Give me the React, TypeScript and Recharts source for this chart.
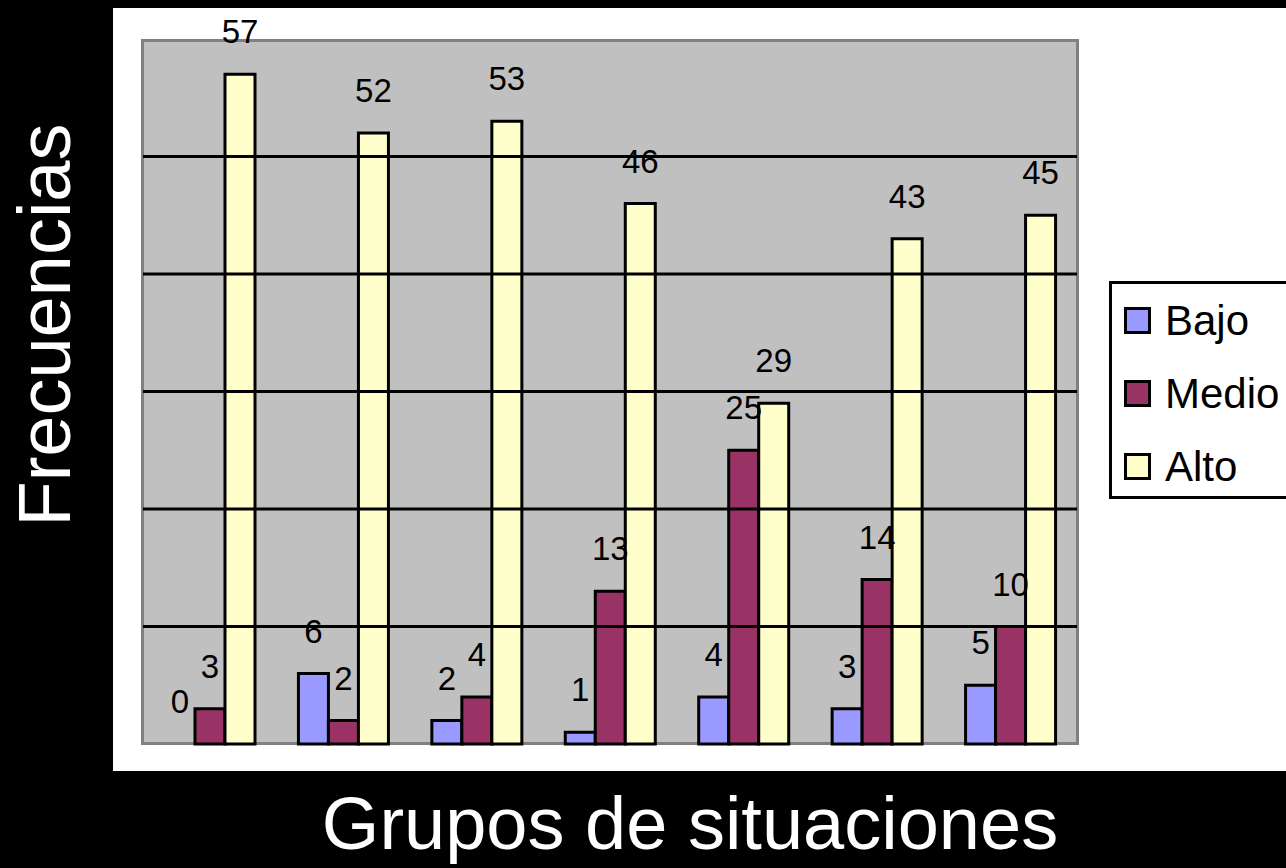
import {
  BarChart,
  Bar,
  XAxis,
  YAxis,
  ReferenceLine,
  LabelList,
  Rectangle,
} from "recharts";

const categories = ["G1", "G2", "G3", "G4", "G5", "G6", "G7"];
const bajo = [0, 6, 2, 1, 4, 3, 5];
const medio = [3, 2, 4, 13, 25, 14, 10];
const alto = [57, 52, 53, 46, 29, 43, 45];
const gridTicks = [10, 20, 30, 40, 50];

const series = [
  { key: "bajo", name: "Bajo", color: "#9999FF" },
  { key: "medio", name: "Medio", color: "#993366" },
  { key: "alto", name: "Alto", color: "#FFFFCC" },
];

const data = categories.map((c, i) => ({
  name: c,
  bajo: bajo[i],
  medio: medio[i],
  alto: alto[i],
}));

const FONT = "'Liberation Sans', Arial, sans-serif";

// value above the bar (bars of value 0 get a hairline height so the label stays)
const renderValue = (props: any) => {
  const { x, y, width, height, value } = props;
  if (value === undefined || value === null) return null;
  const top = Number(y) + (Number(height) < 1.5 ? Number(height) : 0);
  return (
    <text
      x={Number(x) + Number(width) / 2}
      y={top - 31}
      textAnchor="middle"
      fill="#000"
      fontSize={33}
      fontFamily={FONT}
    >
      {value}
    </text>
  );
};

export default function App() {
  return (
    <div
      style={{
        position: "fixed",
        left: 0,
        top: 0,
        width: 1286,
        height: 868,
        background: "#000",
        overflow: "hidden",
        fontFamily: FONT,
      }}
    >
      {/* white chart panel */}
      <div
        style={{
          position: "absolute",
          left: 113,
          top: 8,
          width: 1200,
          height: 763,
          background: "#fff",
        }}
      />
      {/* plot area background + border */}
      <div
        style={{
          position: "absolute",
          left: 141,
          top: 39,
          width: 938,
          height: 706,
          boxSizing: "border-box",
          background: "#C0C0C0",
          border: "3px solid #808080",
        }}
      />
      <div style={{ position: "absolute", left: 0, top: 0 }}>
        <BarChart
          width={1286}
          height={868}
          data={data}
          margin={{ top: 39, right: 209, bottom: 124, left: 143 }}
          barGap={0}
          barSize={30}
        >
          <XAxis dataKey="name" hide />
          <YAxis domain={[0, 60]} hide />
          {gridTicks.map((t) => (
            <ReferenceLine key={t} y={t} stroke="#000" strokeWidth={3} />
          ))}
          {series.map((s) => (
            <Bar
              key={s.key}
              dataKey={s.key}
              name={s.name}
              fill={s.color}
              stroke="#000"
              strokeWidth={3}
              minPointSize={(v: any) => (Number(v) === 0 ? 1 : 0)}
              shape={(p: any) =>
                p.payload && p.payload[s.key] === 0 ? <g /> : <Rectangle {...p} />
              }
              isAnimationActive={false}
            >
              <LabelList dataKey={s.key} content={renderValue} />
            </Bar>
          ))}
        </BarChart>
      </div>
      {/* legend */}
      <div
        style={{
          position: "absolute",
          left: 1109,
          top: 281,
          width: 200,
          height: 218,
          boxSizing: "border-box",
          border: "3px solid #000",
          background: "#fff",
        }}
      >
        {series.map((s) => (
          <div
            key={s.key}
            style={{ height: 73, display: "flex", alignItems: "center" }}
          >
            <div
              style={{
                marginLeft: 12,
                width: 27,
                height: 27,
                boxSizing: "border-box",
                border: "3px solid #000",
                background: s.color,
              }}
            />
            <span
              style={{ marginLeft: 14, fontSize: 42, color: "#000", lineHeight: 1 }}
            >
              {s.name}
            </span>
          </div>
        ))}
      </div>
      {/* axis titles */}
      <svg
        width={1286}
        height={868}
        style={{ position: "absolute", left: 0, top: 0, pointerEvents: "none" }}
      >
        <text
          x={70}
          y={325}
          transform="rotate(-90, 70, 325)"
          textAnchor="middle"
          fill="#fff"
          fontSize={74}
          fontFamily={FONT}
        >
          Frecuencias
        </text>
        <text
          x={690}
          y={849}
          textAnchor="middle"
          fill="#fff"
          fontSize={74}
          fontFamily={FONT}
        >
          Grupos de situaciones
        </text>
      </svg>
    </div>
  );
}
